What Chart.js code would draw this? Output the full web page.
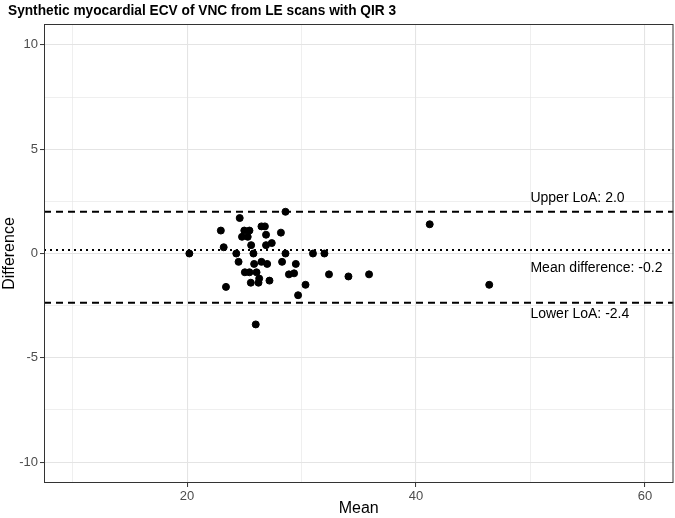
<!DOCTYPE html>
<html>
<head>
<meta charset="utf-8">
<script src="https://cdn.jsdelivr.net/npm/chart.js@4.4.1/dist/chart.umd.min.js"></script>
<style>
html,body{margin:0;padding:0;background:#fff;}
#wrap{width:675px;height:518px;}
</style>
</head>
<body>
<div id="wrap"><canvas id="chart" width="675" height="518"></canvas></div>
<script>
// Bland-Altman points: mean of methods vs difference
const means=[20.2,22.95,23.2,23.4,24.6,24.3,24.5,25.0,25.45,24.8,25.3,25.6,25.8,25.86,25.05,25.45,26.07,25.57,26.24,26.3,26.0,26.5,26.8,26.9,26.9,27.4,26.5,27.0,27.2,28.2,28.6,28.6,28.3,28.9,29.35,29.5,30.35,29.7,31.0,32.0,32.4,34.1,35.9,41.2,46.4];
const diffs=[0.0,1.1,0.3,-1.6,1.7,0.0,-0.4,1.1,1.1,0.8,0.8,0.4,0.0,-0.5,-0.9,-0.9,-0.9,-1.4,-1.4,-1.2,-3.4,1.3,1.3,0.9,0.4,0.5,-0.4,-0.5,-1.3,1.0,2.0,0.0,-0.4,-1.0,-0.95,-0.5,-1.5,-2.0,0.0,0.0,-1.0,-1.1,-1.0,1.4,-1.5];
const upperLoA=2.0, lowerLoA=-2.36, meanLine=0.17;
const labels=[{text:'Upper LoA: 2.0',x:50,y:2.65},{text:'Mean difference: -0.2',x:50,y:-0.7},{text:'Lower LoA: -2.4',x:50,y:-2.9}];
const xTicks=[10,20,30,40,50,60], yTicks=[-10,-7.5,-5,-2.5,0,2.5,5,7.5,10];
const xMin=7.5,xMax=62.5,yMin=-11,yMax=11;

const FONT='"Liberation Sans", Arial, sans-serif';
const pts=means.map((m,i)=>({x:m,y:diffs[i]}));
const hline=v=>[{x:xMin,y:v},{x:xMax,y:v}];

const deco={
 id:'deco',
 afterDatasetsDraw(c){
  const ctx=c.ctx,a=c.chartArea,xs=c.scales.x,ys=c.scales.y;
  ctx.save();
  ctx.fillStyle='#000';ctx.font='14px '+FONT;ctx.textAlign='left';ctx.textBaseline='middle';
  labels.forEach(l=>ctx.fillText(l.text,xs.getPixelForValue(l.x),ys.getPixelForValue(l.y)));
  ctx.strokeStyle='#333';ctx.lineWidth=1;
  ctx.strokeRect(a.left+0.5,a.top+0.5,a.right-a.left-1,a.bottom-a.top-1);
  ctx.restore();
 },
 afterDraw(c){
  const ctx=c.ctx,a=c.chartArea;
  ctx.save();
  ctx.fillStyle='#000';
  ctx.font='bold 15px '+FONT;ctx.textAlign='left';ctx.textBaseline='middle';
  ctx.save();ctx.translate(8,11);ctx.scale(0.913,1);
  ctx.fillText('Synthetic myocardial ECV of VNC from LE scans with QIR 3',0,0);
  ctx.restore();
  ctx.font='16px '+FONT;ctx.textAlign='center';
  ctx.fillText('Mean',(a.left+a.right)/2,509);
  ctx.translate(10,(a.top+a.bottom)/2);ctx.rotate(-Math.PI/2);
  ctx.fillText('Difference',0,0);
  ctx.restore();
 }
};

const major=(v,step)=>Math.abs(v/step-Math.round(v/step))<1e-6;

new Chart(document.getElementById('chart'),{
 type:'scatter',
 data:{datasets:[
  {data:pts,backgroundColor:'#000',borderColor:'#000',pointRadius:3.5,pointHoverRadius:3.5,order:1},
  {type:'line',data:hline(upperLoA),borderColor:'#000',borderWidth:2,borderDash:[7,5],pointRadius:0,fill:false,order:2},
  {type:'line',data:hline(meanLine),borderColor:'#000',borderWidth:2,borderDash:[2,4],pointRadius:0,fill:false,order:2},
  {type:'line',data:hline(lowerLoA),borderColor:'#000',borderWidth:2,borderDash:[7,5],pointRadius:0,fill:false,order:2}
 ]},
 options:{
  responsive:false,animation:false,
  layout:{autoPadding:false,padding:{top:24,right:1.5,left:0,bottom:0}},
  plugins:{legend:{display:false},tooltip:{enabled:false},title:{display:false}},
  scales:{
   x:{type:'linear',min:xMin,max:xMax,
    afterBuildTicks:s=>{s.ticks=xTicks.map(v=>({value:v}));},
    afterFit:s=>{s.height=35;s.paddingLeft=0;s.paddingRight=0;},
    border:{display:false},
    grid:{color:'#e4e4e4',lineWidth:c=>major(c.tick.value,20)?1.1:0.6,tickLength:4,
     tickColor:c=>major(c.tick.value,20)?'#333':'rgba(0,0,0,0)',tickWidth:1},
    ticks:{padding:2,color:'#4d4d4d',font:{family:FONT,size:13},maxRotation:0,autoSkip:false,
     callback:v=>major(v,20)?String(v):''}
   },
   y:{type:'linear',min:yMin,max:yMax,
    afterBuildTicks:s=>{s.ticks=yTicks.map(v=>({value:v}));},
    afterFit:s=>{s.width=44;s.paddingTop=0;s.paddingBottom=0;},
    border:{display:false},
    grid:{color:'#e4e4e4',lineWidth:c=>major(c.tick.value,5)?1.1:0.6,tickLength:4,
     tickColor:c=>major(c.tick.value,5)?'#333':'rgba(0,0,0,0)',tickWidth:1},
    ticks:{padding:2,color:'#4d4d4d',font:{family:FONT,size:13},autoSkip:false,
     callback:v=>major(v,5)?String(v):''}
   }
  }
 },
 plugins:[deco]
});
</script>
</body>
</html>
